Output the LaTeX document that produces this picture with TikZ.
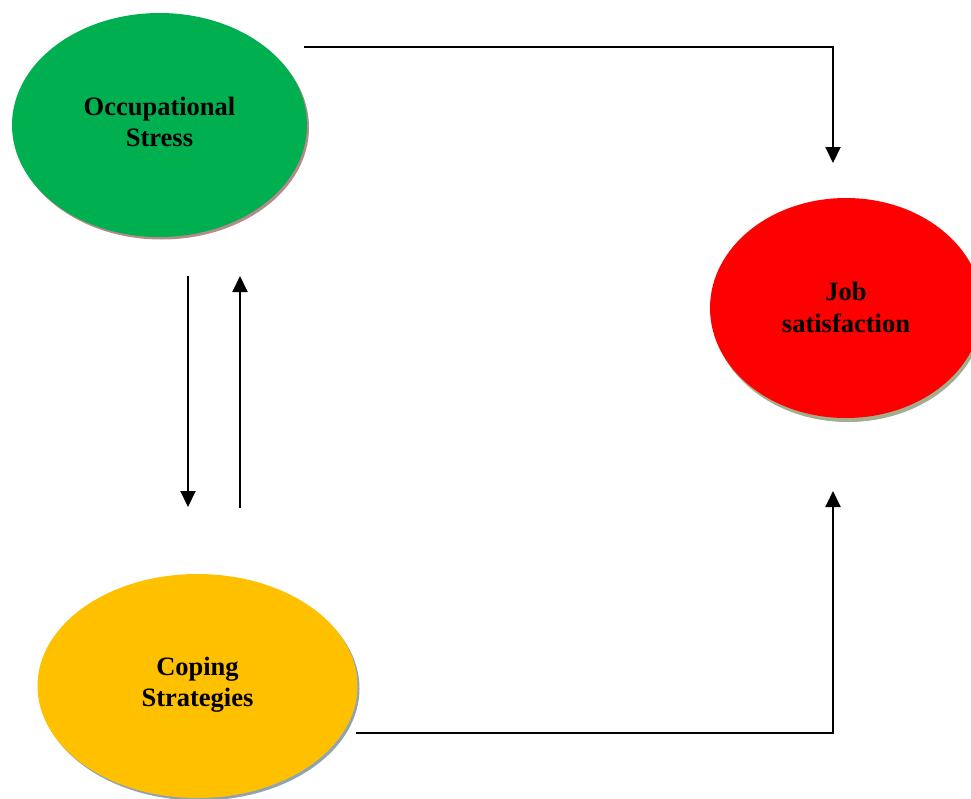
\documentclass[tikz,border=0pt]{standalone}
\usepackage{fontspec}
\setmainfont{Liberation Serif}
\usetikzlibrary{arrows.meta,shapes.geometric}
\definecolor{cgreen}{HTML}{00B050}
\definecolor{cred}{HTML}{FF0000}
\definecolor{cyellow}{HTML}{FFC000}
\definecolor{sgreen}{HTML}{B58A8A}
\definecolor{sred}{HTML}{A3AD8F}
\definecolor{syellow}{HTML}{8FA3B3}
\tikzset{
  lbl/.style={align=center, font=\fontsize{26.5}{31.5}\selectfont\bfseries, inner sep=0pt},
  conn/.style={line width=2pt, -{Triangle[width=15pt,length=16pt]}},
}
\begin{document}
\begin{tikzpicture}[x=1pt,y=-1pt]
\useasboundingbox (0,0) rectangle (971,798);
\begin{scope}
\clip (0,0) rectangle (971,798);
% shadows
\fill[sgreen] (161.5,127.5) ellipse [x radius=147.5, y radius=112];
\fill[sred] (848,311) ellipse [x radius=136, y radius=111];
\fill[syellow] (199.5,688.5) ellipse [x radius=160, y radius=112];
% ellipses
\fill[cgreen] (159.5,125) ellipse [x radius=147.5, y radius=112];
\fill[cred] (846,308) ellipse [x radius=136, y radius=110];
\fill[cyellow] (197.5,686) ellipse [x radius=160, y radius=112];
\end{scope}
\node[lbl] (os) at (159.5,122) {Occupational\\Stress};
\node[lbl] (js) at (846,307.5) {Job\\satisfaction};
\node[lbl] (cs) at (197.5,684.5) {Coping\\Strategies};
% connector end points
\coordinate (a1) at (304,47);
\coordinate (a2) at (833,47);
\coordinate (a3) at (833,163);
\coordinate (b1) at (188,276);
\coordinate (b2) at (188,507);
\coordinate (c1) at (240,508);
\coordinate (c2) at (240,276);
\coordinate (d1) at (356,733);
\coordinate (d2) at (833,733);
\coordinate (d3) at (833,491);
\draw[conn] (a1) -- (a2) -- (a3);
\draw[conn] (b1) -- (b2);
\draw[conn] (c1) -- (c2);
\draw[conn] (d1) -- (d2) -- (d3);
\end{tikzpicture}
\end{document}
